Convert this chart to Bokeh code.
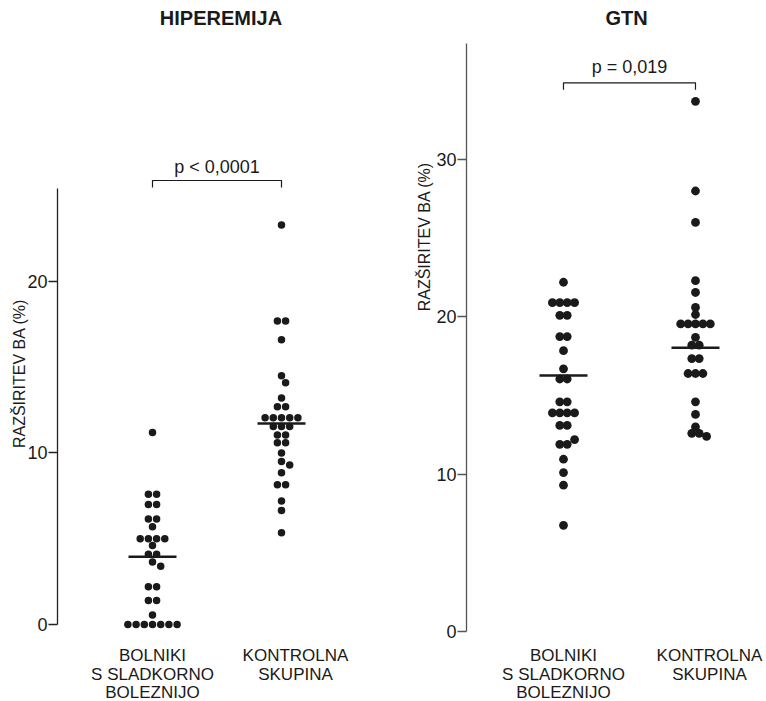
import numpy as np
from bokeh.plotting import figure
from bokeh.models import Range1d, FixedTicker, ColumnDataSource
from bokeh.layouts import row
from bokeh.embed import file_html
from bokeh.resources import INLINE
from bokeh.core.properties import value

# ---------------- data ----------------
group_labels = ["BOLNIKI\nS SLADKORNO\nBOLEZNIJO", "KONTROLNA\nSKUPINA"]
titles = ["HIPEREMIJA", "GTN"]
p_texts = ["p < 0,0001", "p = 0,019"]
axis_title = "RAZŠIRITEV BA (%)"

hip_diab = [11.2, 7.6, 7.6, 7.0, 7.0, 6.15, 6.15, 5.7, 5.0, 5.0, 5.0, 5.0, 4.6,
            4.1, 4.1, 3.65, 3.4, 2.2, 2.2, 1.4, 1.4, 0.55, 0, 0, 0, 0, 0, 0, 0]
hip_ctrl = [23.3, 17.7, 17.7, 16.6, 14.5, 14.1, 13.2, 12.7, 12.7,
            12.05, 12.05, 12.05, 12.05, 12.05, 11.55, 11.55, 11.55, 11.05, 11.05,
            10.6, 10.6, 10.0, 9.5, 9.3, 8.85, 8.15, 8.15, 7.2, 6.65, 5.35]
hip_means = [3.95, 11.72]
hip_ticks = [0, 10, 20]

gtn_diab = [22.2, 20.9, 20.9, 20.9, 20.9, 20.1, 20.1, 18.75, 18.75, 17.85, 16.7,
            16.05, 16.05, 14.6, 14.6, 13.9, 13.9, 13.9, 13.9, 13.1, 13.1, 12.2,
            11.9, 11.9, 10.95, 10.1, 9.3, 6.75]
gtn_ctrl = [33.7, 28.0, 26.0, 22.3, 21.55, 20.6, 20.15, 19.55, 19.55, 19.55, 19.55,
            19.55, 18.7, 18.2, 18.2, 17.35, 17.35, 16.4, 16.4, 16.4, 14.6, 13.8,
            13.0, 12.6, 12.6, 12.4]
gtn_means = [16.27, 18.03]
gtn_ticks = [0, 10, 20, 30]

FONT = "Liberation Sans"
INK = "#1a1a1a"
H = 701


def swarm(vals, ppu_x, ppu_y, spacing):
    """Beeswarm offsets (data units), rows of equal values centred, computed in px."""
    vals = np.asarray(vals, float)
    offs = np.zeros(len(vals))
    placed = []
    shifts = [0]
    for k in range(1, 20):
        shifts += [k * 0.5, -k * 0.5]
    rows = sorted(set(vals), key=lambda v: (-int(np.sum(vals == v)), -v))
    for v in rows:
        idx = [i for i in range(len(vals)) if vals[i] == v]
        n = len(idx)
        base = [(k - (n - 1) / 2) * spacing for k in range(n)]
        yp = v * ppu_y
        for sh in shifts:
            xs = [b + sh * spacing for b in base]
            ok = all(np.hypot(x - px, yp - py) >= spacing * 0.9
                     for x in xs for (px, py) in placed)
            if ok:
                break
        for i, x in zip(idx, xs):
            offs[i] = x / ppu_x
            placed.append((x, yp))
    return offs


def panel(width, xr, yr, axis_at, bounds, ticks, series, means, title, title_y,
          title_dx, ptext, bracket_y, bracket_leg, ptext_y, dot, spacing,
          axis_color, label_y, label_dx, cat_yoff, cat_xoff):
    p = figure(width=width, height=H, x_range=Range1d(*xr), y_range=Range1d(*yr),
               output_backend="svg", toolbar_location=None, x_axis_location=None,
               min_border=0)
    p.outline_line_color = None
    p.grid.visible = False
    p.background_fill_color = "white"
    p.border_fill_color = "white"

    ax = p.yaxis[0]
    ax.fixed_location = axis_at
    ax.ticker = FixedTicker(ticks=ticks)
    ax.bounds = bounds
    ax.major_tick_out = 9
    ax.major_tick_in = 0
    ax.minor_tick_line_color = None
    ax.major_label_standoff = 1
    ax.major_label_text_font = FONT
    ax.major_label_text_font_size = "18px"
    ax.major_label_text_color = INK
    ax.axis_line_width = 1.3
    ax.axis_line_color = axis_color
    ax.major_tick_line_color = axis_color
    ax.major_tick_line_width = 1.3

    ppu_x = width / (xr[1] - xr[0])
    ppu_y = H / (yr[1] - yr[0])

    for gi, vals in enumerate(series):
        gx = gi + 1
        xs = gx + swarm(vals, ppu_x, ppu_y, spacing)
        src = ColumnDataSource(dict(x=xs, y=vals))
        p.scatter("x", "y", source=src, size=dot, fill_color=INK, line_color=None)
        hw = 24 / ppu_x
        p.segment(x0=[gx - hw], x1=[gx + hw], y0=[means[gi]], y1=[means[gi]],
                  line_color=INK, line_width=2.5)

    # title
    p.text(x=[1.5], y=[title_y], text=[title], x_offset=title_dx,
           text_font=value(FONT), text_font_size="20px", text_font_style="bold",
           text_align="center", text_baseline="middle", text_color=INK)

    # significance bracket
    p.line(x=[1, 1, 2, 2], y=[bracket_leg, bracket_y, bracket_y, bracket_leg],
           line_color=INK, line_width=1.2)
    p.text(x=[1.5], y=[ptext_y], text=[ptext], text_font=value(FONT),
           text_font_size="18px", text_align="center", text_baseline="middle",
           text_color=INK)

    # category labels
    p.text(x=[1, 2], y=[0, 0], text=group_labels, x_offset=cat_xoff,
           y_offset=cat_yoff, text_font=value(FONT), text_font_size="17px",
           text_align="center", text_baseline="top", text_line_height=0.97,
           text_color=INK)

    # axis title
    p.text(x=[axis_at], y=[label_y], text=[axis_title], x_offset=label_dx,
           angle=np.pi / 2, text_font=value(FONT), text_font_size="16px",
           text_align="center", text_baseline="middle", text_color=INK)
    return p


# left panel: 390 px wide, groups at px 152 / 281, axis at px 57, y=0 at px 624
p1 = panel(390, (-0.1783, 2.845), (-4.49, 36.385), 0.2636, (0, 25.4), hip_ticks,
           [hip_diab, hip_ctrl], hip_means, titles[0], 35.36, 4, p_texts[0],
           25.89, 25.48, 26.7, 7.5, 8.2, "#222222", 14.64, -38, 22, [0, 14])
# right panel: 376 px wide, groups at px 173 / 305, axis at px 76, y=0 at px 631
p2 = panel(376, (-0.3106, 2.538), (-4.45, 40.11), 0.265, (0, 37.4), gtn_ticks,
           [gtn_diab, gtn_ctrl], gtn_means, titles[1], 39.0, -3, p_texts[1],
           34.88, 34.44, 35.87, 8.8, 7.4, "#555555", 25.1, -42, 15, [0, 14])

layout = row(p1, p2)
open("out.html", "w").write(file_html(layout, INLINE))
